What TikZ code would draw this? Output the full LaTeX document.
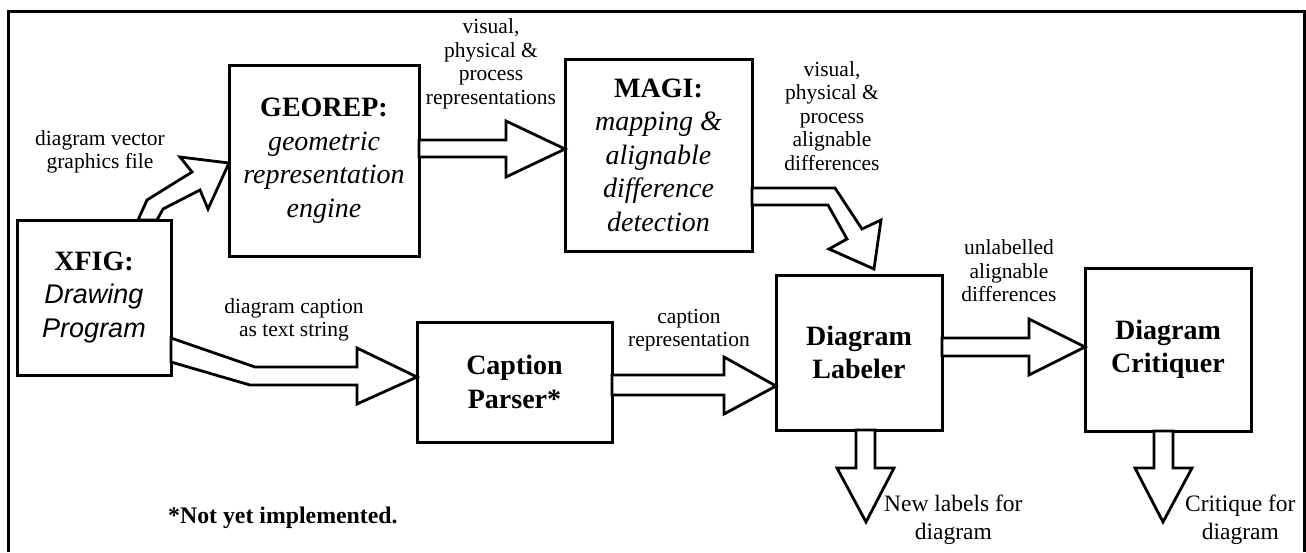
\documentclass[tikz,border=0pt]{standalone}
\usepackage{fontspec}
\setmainfont{Liberation Serif}
\newfontfamily\hvfont{Liberation Sans}
\usetikzlibrary{calc}
\begin{document}
\begin{tikzpicture}[x=1pt,y=-1pt,
  box/.style={draw, line width=3pt, inner sep=0pt, outer sep=0pt, align=center,
    font=\fontsize{28}{33.5}\selectfont},
  lbl/.style={align=center, inner sep=0pt, font=\fontsize{21.5}{23.5}\selectfont},
  outlbl/.style={align=center, inner sep=0pt, anchor=west, font=\fontsize{23.5}{28.5}\selectfont},
  barrow/.style={draw, fill=white, line width=2.8pt, line join=miter}]
\useasboundingbox (0,0) rectangle (1306,552);
\draw[line width=3pt] (8,552) -- (8,11) -- (1304,11) -- (1304,552);

% boxes
\node[box, minimum width=154, minimum height=155] (xfig) at (94,297.5)
  {\textbf{XFIG:}\\\hvfont\itshape\fontsize{27}{31}\selectfont Drawing\\\hvfont\itshape\fontsize{27}{31}\selectfont Program};
\node[box, minimum width=190, minimum height=191] (geo) at (324,160.5)
  {\textbf{GEOREP:}\\\textit{geometric}\\\textit{representation}\\\textit{engine}};
\node[box, minimum width=187, minimum height=192] (magi) at (658.5,155)
  {\textbf{MAGI:}\\\textit{mapping \&}\\\textit{alignable}\\\textit{difference}\\\textit{detection}};
\node[box, minimum width=195, minimum height=120] (cap) at (514.5,382)
  {\textbf{Caption}\\\textbf{Parser*}};
\node[box, minimum width=166, minimum height=155] (lab) at (859,352.5)
  {\textbf{Diagram}\\\textbf{Labeler}};
\node[box, minimum width=166, minimum height=163] (crit) at (1168,349.5)
  {\textbf{Diagram}\\\textbf{Critiquer}};

% block arrows
\draw[barrow] (xfig.north -| 138,0) -- (147,200) -- (192,172) -- (180,157)
  -- (geo.west |- 0,163) -- (208,209) -- (200,190) -- (163,209) -- (xfig.north -| 157,0) -- cycle;
\draw[barrow] (geo.east |- 0,140) -- (506,140) -- (506,121) -- (magi.west |- 0,149)
  -- (506,177) -- (506,157) -- (geo.east |- 0,157) -- cycle;
\draw[barrow] (magi.east |- 0,188) -- (835,188) -- (862,229) -- (881,220) -- (874,269)
  -- (829,249) -- (847,239) -- (828,205) -- (magi.east |- 0,205) -- cycle;
\draw[barrow] (xfig.east |- 0,338) -- (255,367) -- (357,367) -- (357,348) -- (cap.west |- 0,377)
  -- (357,404) -- (357,385) -- (250,385) -- (xfig.east |- 0,362) -- cycle;
\draw[barrow] (cap.east |- 0,375) -- (724,375) -- (724,357) -- (lab.west |- 0,386)
  -- (724,414) -- (724,395) -- (cap.east |- 0,395) -- cycle;
\draw[barrow] (lab.east |- 0,338) -- (1029,338) -- (1029,319) -- (crit.west |- 0,347)
  -- (1029,375) -- (1029,356) -- (lab.east |- 0,356) -- cycle;
\coordinate (labout) at (866,522);
\coordinate (critout) at (1163,522);
\draw[barrow] (lab.south -| 856,0) -- (856,468) -- (837,468) -- (labout) -- (894,468)
  -- (875,468) -- (lab.south -| 875,0) -- cycle;
\draw[barrow] (crit.south -| 1154,0) -- (1154,468) -- (1135,468) -- (critout) -- (1192,468)
  -- (1173,468) -- (crit.south -| 1173,0) -- cycle;

% labels
\node[lbl] (l1) at (100,152) {diagram vector\\graphics file};
\node[lbl] (l2) at (491,64) {visual,\\physical \&\\process\\representations};
\node[lbl] (l3) at (832,116) {visual,\\physical \&\\process\\alignable\\differences};
\node[lbl] (l4) at (1009,271) {unlabelled\\alignable\\differences};
\node[lbl] (l5) at (294,320) {diagram caption\\as text string};
\node[lbl] (l6) at (689,330) {caption\\representation};
\node[outlbl] (l7) at (884,520) {New labels for\\diagram};
\node[outlbl] (l8) at (1185,520) {Critique for\\diagram};
\node[anchor=west, inner sep=0pt, font=\fontsize{23.8}{28}\selectfont\bfseries] (note) at (168,518)
  {*Not yet implemented.};
\end{tikzpicture}
\end{document}
